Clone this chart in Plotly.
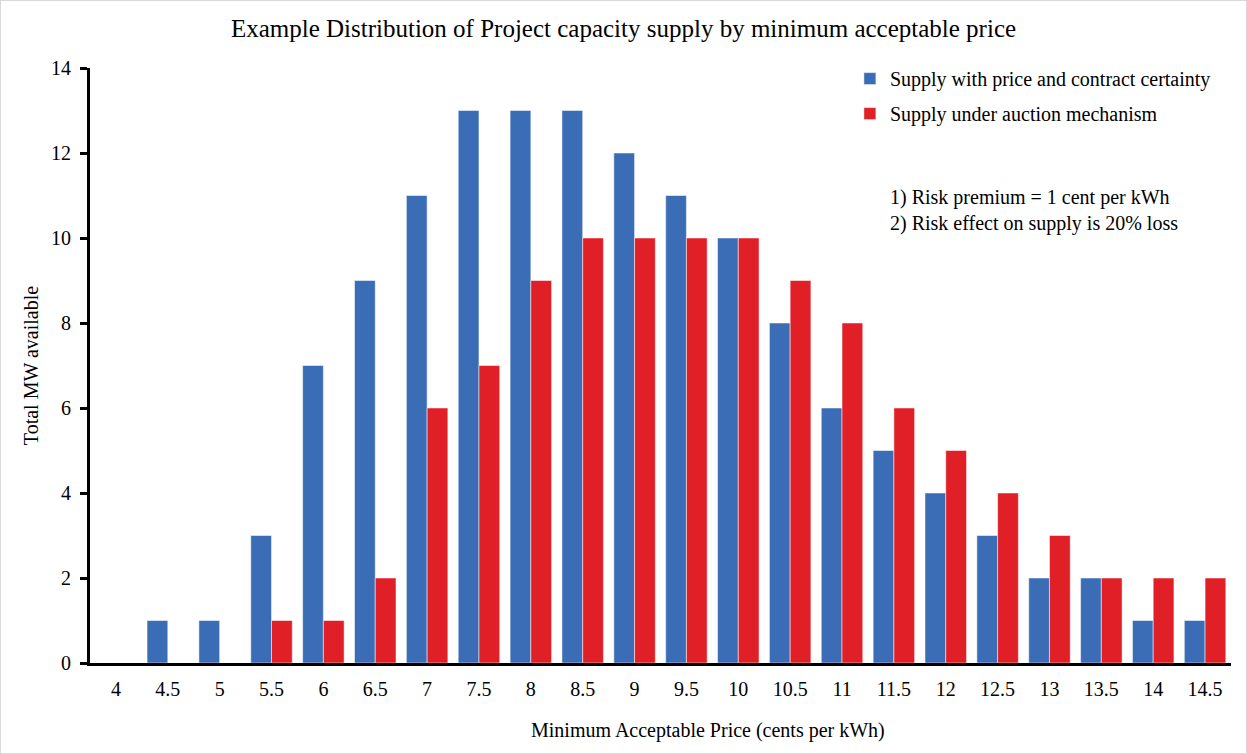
import plotly.graph_objects as go

categories = ["4", "4.5", "5", "5.5", "6", "6.5", "7", "7.5", "8", "8.5", "9",
              "9.5", "10", "10.5", "11", "11.5", "12", "12.5", "13", "13.5", "14", "14.5"]
certainty = [0, 1, 1, 3, 7, 9, 11, 13, 13, 13, 12, 11, 10, 8, 6, 5, 4, 3, 2, 2, 1, 1]
auction = [0, 0, 0, 1, 1, 2, 6, 7, 9, 10, 10, 10, 10, 9, 8, 6, 5, 4, 3, 2, 2, 2]
series_names = ["Supply with price and contract certainty", "Supply under auction mechanism"]
notes = ["1) Risk premium = 1 cent per kWh", "2) Risk effect on supply is 20% loss"]

FONT = "Liberation Serif"
BLUE = "#3B6DB6"
RED = "#E01F27"

fig = go.Figure()
fig.add_trace(go.Bar(x=categories, y=certainty, name=series_names[0],
                     marker=dict(color=BLUE, line=dict(color="rgba(255,255,255,0.5)", width=1)),
                     legendgroup="a"))
fig.add_trace(go.Bar(x=categories, y=auction, name=series_names[1],
                     marker=dict(color=RED, line=dict(color="rgba(255,255,255,0.5)", width=1)),
                     legendgroup="b"))

fig.update_layout(
    width=1247, height=754,
    margin=dict(l=90, r=16, t=68, b=91),
    paper_bgcolor="white", plot_bgcolor="white",
    barmode="group", bargap=0.2, bargroupgap=0,
    font=dict(family=FONT, color="#000000", size=19),
    title=dict(text="Example Distribution of Project capacity supply by minimum acceptable price",
               x=0.5, xanchor="center", y=1 - 28 / 754, yanchor="middle",
               font=dict(family=FONT, size=25, color="#000000")),
    showlegend=True,
    legend=dict(x=0.666, y=1.015, xanchor="left", yanchor="top", bgcolor="rgba(0,0,0,0)",
                font=dict(family=FONT, size=20), traceorder="grouped", tracegroupgap=6,
                itemwidth=30),
    xaxis=dict(type="category", showline=True, linecolor="black", linewidth=3,
               ticks="outside", ticklen=6, tickcolor="rgba(0,0,0,0)",
               tickfont=dict(family=FONT, size=20), showgrid=False, zeroline=False,
               title=None),
    yaxis=dict(range=[0, 14], dtick=2, showline=True, linecolor="black", linewidth=3,
               ticks="outside", ticklen=7, tickwidth=3, tickcolor="black",
               ticklabelstandoff=5,
               tickfont=dict(family=FONT, size=20), showgrid=False, zeroline=False,
               title=dict(text="Total MW available", font=dict(family=FONT, size=20), standoff=8)),
)

fig.add_annotation(text="Minimum Acceptable Price (cents per kWh)", xref="paper", yref="paper",
                   x=(708 - 90) / 1141, y=-(730 - 663) / 595, xanchor="center", yanchor="middle",
                   showarrow=False, font=dict(family=FONT, size=20))
fig.add_annotation(text=notes[0] + "<br>" + notes[1], xref="paper", yref="paper",
                   x=(888 - 90) / 1141, y=(663 - 210) / 595, xanchor="left", yanchor="middle",
                   align="left", showarrow=False, font=dict(family=FONT, size=20))

fig.add_shape(type="rect", xref="paper", yref="paper",
              x0=-90 / 1141, x1=1 + 16 / 1141, y0=-91 / 595, y1=1 + 68 / 595,
              line=dict(color="#D9D9D9", width=2), fillcolor="rgba(0,0,0,0)", layer="below")

fig.write_html("out.html")
